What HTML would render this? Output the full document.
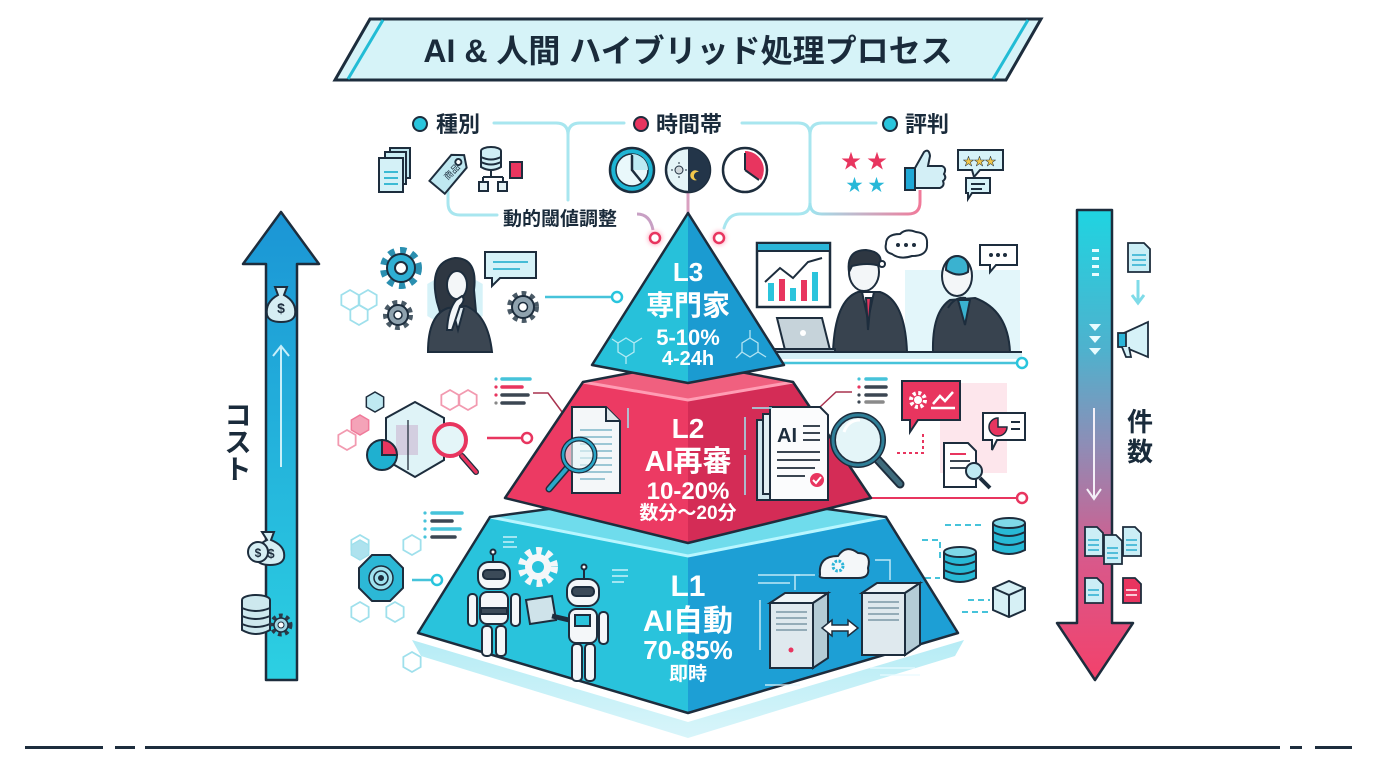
<!DOCTYPE html>
<html><head><meta charset="utf-8"><style>
html,body{margin:0;padding:0;background:#fff;}
svg{display:block;}
text{font-family:"Liberation Sans","Noto Sans CJK JP",sans-serif;}
</style></head><body>
<svg width="1376" height="768" viewBox="0 0 1376 768" xmlns="http://www.w3.org/2000/svg">
<defs>
<linearGradient id="costG" x1="0" y1="0" x2="0" y2="1"><stop offset="0" stop-color="#1b95d5"/><stop offset="1" stop-color="#2cd0e2"/></linearGradient>
<linearGradient id="cntG" x1="0" y1="0" x2="0" y2="1"><stop offset="0" stop-color="#1fd4e1"/><stop offset="0.3" stop-color="#4fb1cd"/><stop offset="0.5" stop-color="#8e8db6"/><stop offset="0.75" stop-color="#d9588a"/><stop offset="1" stop-color="#f3416b"/></linearGradient>
<linearGradient id="rcG" x1="0" y1="0" x2="1" y2="0"><stop offset="0" stop-color="#9fe3ee"/><stop offset="1" stop-color="#f07a9a"/></linearGradient>
<linearGradient id="plateG" x1="0" y1="0" x2="0" y2="1"><stop offset="0" stop-color="#b6ecf5"/><stop offset="1" stop-color="#d8f5fa"/></linearGradient>
<filter id="glow" x="-1" y="-1" width="3" height="3"><feGaussianBlur stdDeviation="2.5"/></filter>
<polygon id="hx" points="0,-10 8.66,-5 8.66,5 0,10 -8.66,5 -8.66,-5"/>
</defs>

<!-- Title -->
<polygon points="370,19 1041,19 1006,80 335,80" fill="#d6f3f8" stroke="#1d2d3d" stroke-width="3"/>
<line x1="348" y1="79" x2="383" y2="20" stroke="#22bcd5" stroke-width="3"/>
<line x1="993" y1="79" x2="1028" y2="20" stroke="#22bcd5" stroke-width="3"/>
<text x="688" y="62" text-anchor="middle" font-size="32" font-weight="700" fill="#1a2b3b">AI &amp; 人間 ハイブリッド処理プロセス</text>

<!-- category connectors -->
<g fill="none" stroke="#a8e6ef" stroke-width="3" stroke-linecap="round">
<path d="M494,123 H556 Q568,123 568,135 V200"/>
<path d="M568,135 Q568,123 580,123 H624"/>
<path d="M742,123 H798 Q810,123 810,135 V203 Q810,214 798,214 H740 Q728,214 724,228"/>
<path d="M810,135 Q810,123 822,123 H876"/>
<path d="M448,190 V203 Q448,215 460,215 H497"/>
</g>
<path d="M810,203 Q810,214 822,214 H908 Q920,214 920,202 V190" fill="none" stroke="url(#rcG)" stroke-width="3"/>
<path d="M637,214 Q650,214 653,230" fill="none" stroke="#c8a0c4" stroke-width="3"/>
<line x1="688" y1="192" x2="688" y2="214" stroke="#d9a0c0" stroke-width="3"/>
<circle cx="655" cy="238" r="7" fill="#ff7a9c" filter="url(#glow)" opacity="0.6"/>
<circle cx="719" cy="238" r="7" fill="#ff7a9c" filter="url(#glow)" opacity="0.6"/>
<circle cx="655" cy="238" r="5" fill="#fff" stroke="#e8355f" stroke-width="2.5"/>
<circle cx="719" cy="238" r="5" fill="#fff" stroke="#e8355f" stroke-width="2.5"/>

<!-- categories -->
<circle cx="420" cy="124" r="7" fill="#29c5dd" stroke="#1d2d3d" stroke-width="2"/>
<text x="436" y="132" font-size="22" font-weight="700" fill="#1a2b3b">種別</text>
<circle cx="641" cy="124" r="7" fill="#e8355f" stroke="#1d2d3d" stroke-width="2"/>
<text x="656" y="132" font-size="22" font-weight="700" fill="#1a2b3b">時間帯</text>
<circle cx="890" cy="124" r="7" fill="#29c5dd" stroke="#1d2d3d" stroke-width="2"/>
<text x="905" y="132" font-size="22" font-weight="700" fill="#1a2b3b">評判</text>
<text x="503" y="225" font-size="19" font-weight="700" fill="#1a2b3b">動的閾値調整</text>

<!-- 種別 icons -->
<g stroke="#1d2d3d" stroke-width="2">
<rect x="390" y="148" width="20" height="30" fill="#bfe6ef"/>
<rect x="385" y="152" width="21" height="32" fill="#c9edf4"/>
<rect x="379" y="158" width="24" height="34" fill="#d4f1f7"/>
<g stroke="#3bbad4" stroke-width="2"><line x1="384" y1="172" x2="398" y2="172"/><line x1="384" y1="178" x2="398" y2="178"/><line x1="384" y1="184" x2="398" y2="184"/></g>
<g transform="rotate(40 450 172)"><path d="M440,158 L450,150 L460,158 V192 H440 Z" fill="#bfe8f1"/><circle cx="450" cy="159" r="3" fill="#fff"/></g>
<text x="445" y="180" font-size="9" fill="#1d2d3d" stroke="none" transform="rotate(-45 447 177)">商品</text>
<ellipse cx="491" cy="151" rx="10" ry="4" fill="#cfeef5"/>
<path d="M481,151 V167 Q491,173 501,167 V151" fill="#cfeef5"/>
<path d="M481,157 Q491,162 501,157 M481,162 Q491,167 501,162" fill="none"/>
<path d="M491,171 V177 M483,177 H503 M483,177 V182 M503,177 V182" fill="none"/>
<rect x="479" y="182" width="9" height="9" fill="#e6f4f7"/>
<rect x="498" y="182" width="9" height="9" fill="#e6f4f7"/>
<rect x="510" y="162" width="12" height="16" fill="#e8355f"/>
</g>

<!-- clocks -->
<circle cx="632" cy="170" r="22" fill="#1eb5d4" stroke="#1d2d3d" stroke-width="2.5"/>
<circle cx="632" cy="170" r="16" fill="#e9f8fb" stroke="#1d2d3d" stroke-width="1.5"/>
<path d="M632,154 A16,16 0 0 1 648,170 L632,170 Z" fill="#bdeaf3"/>
<path d="M632,170 V156 M632,170 L641,181" stroke="#1d2d3d" stroke-width="2.5" stroke-linecap="round"/>
<circle cx="688" cy="170" r="22" fill="#e5f5f8" stroke="#1d2d3d" stroke-width="2.5"/>
<path d="M688,148 A22,22 0 0 1 688,192 Z" fill="#233549"/>
<circle cx="679" cy="170" r="4" fill="#cfd8dc" stroke="#1d2d3d" stroke-width="1"/>
<path d="M679,162 V164 M679,176 V178 M671,170 H673 M685,170 H687" stroke="#1d2d3d" stroke-width="1"/>
<path d="M699,172 A5,5 0 1 0 697,180 A4,4 0 0 1 699,172 Z" fill="#f3c84b"/>
<circle cx="745" cy="170" r="22" fill="#fff" stroke="#1d2d3d" stroke-width="2.5"/>
<path d="M745,170 V151 A19,19 0 0 1 761,180 Z" fill="#e8355f"/>
<path d="M745,170 V153 M745,170 L759,180" stroke="#1d2d3d" stroke-width="2"/>

<!-- 評判 icons -->
<text x="841" y="168" font-size="20" fill="#e8355f" font-family="DejaVu Sans">★</text>
<text x="867" y="168" font-size="20" fill="#e8355f" font-family="DejaVu Sans">★</text>
<text x="846" y="191" font-size="17" fill="#29b8d8" font-family="DejaVu Sans">★</text>
<text x="868" y="191" font-size="17" fill="#29b8d8" font-family="DejaVu Sans">★</text>
<g stroke="#1d2d3d" stroke-width="2">
<rect x="905" y="168" width="10" height="22" fill="#1fa8d6"/>
<path d="M915,168 L924,152 Q929,148 930,156 L928,166 H942 Q947,168 944,174 Q947,178 943,181 Q945,186 940,188 H915 Z" fill="#d3eff6"/>
<path d="M958,150 H1003 V170 H980 L974,177 L972,170 H958 Z" fill="#d6f2f8"/>
<path d="M966,178 H990 V193 H972 L968,199 V193 H966 Z" fill="#d6f2f8"/>
<line x1="971" y1="184" x2="985" y2="184"/><line x1="971" y1="189" x2="982" y2="189"/>
</g>
<text x="963" y="165" font-size="11" fill="#f3c84b" font-family="DejaVu Sans" stroke="#1d2d3d" stroke-width="0.5">★★★</text>

<!-- Left cost arrow -->
<path d="M266,680 V264 H243 L281,212 L319,264 H297 V680 Z" fill="url(#costG)" stroke="#1d2d3d" stroke-width="2.5" stroke-linejoin="round"/>
<path d="M281,467 V347 M273,356 L281,346 L289,356" fill="none" stroke="#e6fbff" stroke-width="2" opacity="0.85"/>
<g stroke="#1d2d3d" stroke-width="2">
<path d="M275,287 L287,287 L284,295 Q297,302 295,315 Q293,322 281,322 Q269,322 267,315 Q265,302 278,295 Z" fill="#d6eef3"/>
<path d="M262,532 L274,532 L271,540 Q286,546 284,558 Q282,565 270,565 Q258,565 256,558 Q254,546 267,540 Z" fill="#d6eef3"/>
<circle cx="258" cy="552" r="10" fill="#d6eef3"/>
<ellipse cx="256" cy="600" rx="14" ry="5" fill="#cde8ee"/>
<path d="M242,600 V630 Q256,638 270,630 V600" fill="#cde8ee"/>
<path d="M242,608 Q256,614 270,608 M242,616 Q256,622 270,616 M242,624 Q256,630 270,624" fill="none"/>
</g>
<text x="281" y="313" font-size="14" text-anchor="middle" fill="#1d2d3d" font-weight="700">$</text>
<text x="271" y="558" font-size="13" text-anchor="middle" fill="#1d2d3d" font-weight="700">$</text>
<text x="258" y="557" font-size="12" text-anchor="middle" fill="#1d2d3d" font-weight="700">$</text>
<circle cx="281" cy="625" r="9" fill="none" stroke="#2b3a48" stroke-width="5" stroke-dasharray="3.5 3.2"/>
<circle cx="281" cy="625" r="7" fill="#9fd6e4" stroke="#1d2d3d" stroke-width="1.5"/>
<circle cx="281" cy="625" r="3" fill="#fff" stroke="#1d2d3d" stroke-width="1"/>
<text x="238" y="425" font-size="27" font-weight="700" text-anchor="middle" fill="#1a2b3b">コ</text>
<text x="238" y="452" font-size="27" font-weight="700" text-anchor="middle" fill="#1a2b3b">ス</text>
<text x="238" y="479" font-size="27" font-weight="700" text-anchor="middle" fill="#1a2b3b">ト</text>

<!-- Right count arrow -->
<path d="M1077,210 H1112 V623 H1133 L1095,680 L1057,623 H1077 Z" fill="url(#cntG)" stroke="#1d2d3d" stroke-width="2.5" stroke-linejoin="round"/>
<g fill="#e8fcff"><rect x="1092" y="249" width="7" height="3"/><rect x="1092" y="257" width="7" height="3"/><rect x="1092" y="265" width="7" height="3"/><rect x="1092" y="273" width="7" height="3"/>
<polygon points="1089,324 1101,324 1095,331"/><polygon points="1089,336 1101,336 1095,343"/><polygon points="1089,348 1101,348 1095,355"/></g>
<path d="M1094,408 V498 M1087,489 L1094,499 L1101,489" fill="none" stroke="#f4f0f8" stroke-width="2"/>
<g stroke="#1d2d3d" stroke-width="1.8">
<path d="M1128,243 H1144 L1150,249 V272 H1128 Z" fill="#cbeef6"/>
<path d="M1124,333 L1148,322 V357 L1124,347 Z" fill="#d6f2f8"/>
<rect x="1118" y="333" width="8" height="14" fill="#2bb5d8"/>
<path d="M1122,347 L1126,357 H1131 L1129,347" fill="#d6f2f8"/>
<path d="M1085,527 H1097 L1103,533 V556 H1085 Z" fill="#cbeef6"/>
<path d="M1123,527 H1135 L1141,533 V556 H1123 Z" fill="#cbeef6"/>
<path d="M1104,535 H1116 L1122,541 V564 H1104 Z" fill="#cbeef6"/>
<path d="M1085,578 H1097 L1103,584 V603 H1085 Z" fill="#cbeef6"/>
<path d="M1123,578 H1135 L1141,584 V603 H1123 Z" fill="#e8355f"/>
</g>
<g stroke="#2aaed0" stroke-width="1.5">
<line x1="1132" y1="255" x2="1146" y2="255"/><line x1="1132" y1="260" x2="1146" y2="260"/><line x1="1132" y1="265" x2="1146" y2="265"/>
<line x1="1088" y1="540" x2="1099" y2="540"/><line x1="1088" y1="545" x2="1099" y2="545"/><line x1="1088" y1="550" x2="1099" y2="550"/>
<line x1="1126" y1="540" x2="1137" y2="540"/><line x1="1126" y1="545" x2="1137" y2="545"/><line x1="1126" y1="550" x2="1137" y2="550"/>
<line x1="1107" y1="548" x2="1118" y2="548"/><line x1="1107" y1="553" x2="1118" y2="553"/><line x1="1107" y1="558" x2="1118" y2="558"/>
<line x1="1088" y1="590" x2="1099" y2="590"/><line x1="1088" y1="595" x2="1099" y2="595"/>
</g>
<g stroke="#fff" stroke-width="1.5"><line x1="1126" y1="590" x2="1137" y2="590"/><line x1="1126" y1="595" x2="1137" y2="595"/></g>
<path d="M1138,280 V302 M1132,295 L1138,303 L1144,295" fill="none" stroke="#7fdbe8" stroke-width="3"/>
<text x="1140" y="431" font-size="26" font-weight="700" text-anchor="middle" fill="#1a2b3b">件</text>
<text x="1140" y="461" font-size="26" font-weight="700" text-anchor="middle" fill="#1a2b3b">数</text>

<!-- Left illustrations -->
<g fill="none" stroke="#9fe0ec" stroke-width="1.8">
<use href="#hx" x="350" y="300"/>
<use href="#hx" x="368" y="300"/>
<use href="#hx" x="359" y="315"/>
<use href="#hx" x="412" y="662"/>
<use href="#hx" x="360" y="545"/>
<use href="#hx" x="360" y="612"/>
<use href="#hx" x="395" y="612"/>
<use href="#hx" x="412" y="545"/>
</g>
<g fill="none" stroke="#f29ab0" stroke-width="1.8">
<use href="#hx" x="450" y="400"/>
<use href="#hx" x="468" y="400"/>
<use href="#hx" x="347" y="440"/>
</g>
<use href="#hx" x="375" y="402" fill="#bfe9f2" stroke="#1d2d3d" stroke-width="1.5"/>
<use href="#hx" x="360" y="425" fill="#f4a3b8" stroke="#f07a9a" stroke-width="1.5"/>
<use href="#hx" x="360" y="550" fill="#aee2ee" stroke="#9fe0ec" stroke-width="1.5"/>
<!-- gears -->
<g>
<circle cx="401" cy="268" r="17" fill="none" stroke="#2a8fb0" stroke-width="8" stroke-dasharray="6 5.3"/>
<circle cx="401" cy="268" r="14" fill="#2eafd3" stroke="#1d2d3d" stroke-width="2"/>
<circle cx="401" cy="268" r="6" fill="#fff" stroke="#1d2d3d" stroke-width="2"/>
<circle cx="398" cy="315" r="12" fill="none" stroke="#4a5a66" stroke-width="6" stroke-dasharray="4.5 4"/>
<circle cx="398" cy="315" r="10" fill="#8fa2ae" stroke="#1d2d3d" stroke-width="2"/>
<circle cx="398" cy="315" r="4" fill="#fff" stroke="#1d2d3d" stroke-width="1.5"/>
<circle cx="523" cy="307" r="13" fill="none" stroke="#4a5a66" stroke-width="6" stroke-dasharray="4.5 4"/>
<circle cx="523" cy="307" r="11" fill="#8fa2ae" stroke="#1d2d3d" stroke-width="2"/>
<circle cx="523" cy="307" r="4.5" fill="#fff" stroke="#1d2d3d" stroke-width="1.5"/>
</g>
<!-- woman -->
<use href="#hx" x="0" y="0" transform="translate(455,300) scale(3.2)" fill="#d6f2f8"/>
<g stroke="#1d2d3d" stroke-width="2">
<path d="M437,302 Q428,262 455,258 Q478,258 474,290 L476,312 L440,312 Z" fill="#2e3742"/>
<ellipse cx="457" cy="285" rx="10" ry="14" fill="#f3f6f8"/>
<path d="M428,352 Q428,315 448,308 L466,306 Q488,315 492,352 Z" fill="#3b4652"/>
<path d="M452,308 L458,330 L464,308" fill="#dfeaf0"/>
<path d="M447,330 Q448,310 456,300 L462,296 Q466,300 460,306 L452,330 Z" fill="#f3f6f8"/>
<path d="M485,252 H536 V278 H500 L492,286 L492,278 H485 Z" fill="#d6f2f8"/>
</g>
<line x1="493" y1="262" x2="528" y2="262" stroke="#46bcd6" stroke-width="2"/>
<line x1="493" y1="269" x2="520" y2="269" stroke="#46bcd6" stroke-width="2"/>
<line x1="545" y1="297" x2="612" y2="297" stroke="#46c3da" stroke-width="2.5"/>
<circle cx="617" cy="297" r="5" fill="#fff" stroke="#29c5dd" stroke-width="2.5"/>
<!-- lines icon mid -->
<g stroke-width="3.5" stroke-linecap="round">
<line x1="502" y1="379" x2="530" y2="379" stroke="#46c3da"/>
<line x1="502" y1="387" x2="522" y2="387" stroke="#e8355f"/>
<line x1="502" y1="395" x2="528" y2="395" stroke="#3b4652"/>
<line x1="502" y1="403" x2="524" y2="403" stroke="#3b4652"/>
<line x1="432" y1="513" x2="462" y2="513" stroke="#46c3da"/>
<line x1="432" y1="521" x2="452" y2="521" stroke="#3b4652"/>
<line x1="432" y1="529" x2="460" y2="529" stroke="#46c3da"/>
<line x1="432" y1="537" x2="455" y2="537" stroke="#3b4652"/>
</g>
<g fill="#888"><circle cx="496" cy="379" r="1.6" fill="#46c3da"/><circle cx="496" cy="387" r="1.6" fill="#e8355f"/><circle cx="496" cy="395" r="1.6" fill="#e8355f"/><circle cx="496" cy="403" r="1.6"/>
<circle cx="425" cy="513" r="1.6" fill="#46c3da"/><circle cx="425" cy="521" r="1.6" fill="#46c3da"/><circle cx="425" cy="529" r="1.6" fill="#46c3da"/><circle cx="425" cy="537" r="1.6" fill="#46c3da"/></g>
<path d="M533,393 H548 L568,420" fill="none" stroke="#a8324f" stroke-width="1.5"/>
<!-- big hex w/ magnifier -->
<polygon points="415,402 444,418 444,460 415,477 386,460 386,418" fill="#dff3f7" stroke="#1d2d3d" stroke-width="2"/>
<rect x="396" y="425" width="22" height="30" fill="#c8a9c9" opacity="0.5"/>
<path d="M408,420 V470" stroke="#3b4652" stroke-width="1.5"/>
<path d="M382,440 A15,15 0 1 0 397,455 L382,455 Z" fill="#1fb0d0" stroke="#1d2d3d" stroke-width="2"/>
<path d="M382,440 A15,15 0 0 1 397,455 L382,455 Z" fill="#e8355f" stroke="#1d2d3d" stroke-width="2"/>
<line x1="462" y1="456" x2="476" y2="472" stroke="#1d2d3d" stroke-width="6" stroke-linecap="round"/>
<line x1="462" y1="456" x2="476" y2="472" stroke="#e8355f" stroke-width="3.5" stroke-linecap="round"/>
<circle cx="450" cy="440" r="16" fill="#e4f5f8" stroke="#e8355f" stroke-width="4"/>
<line x1="487" y1="438" x2="521" y2="438" stroke="#e8355f" stroke-width="2.5"/>
<circle cx="527" cy="438" r="5" fill="#fff" stroke="#e8355f" stroke-width="2.5"/>
<!-- octagon camera -->
<polygon points="372,555 390,555 403,568 403,588 390,601 372,601 359,588 359,568" fill="#2cb8d6" stroke="#1d2d3d" stroke-width="2"/>
<circle cx="381" cy="578" r="12" fill="#9fe2ee" stroke="#1d2d3d" stroke-width="1.5"/>
<circle cx="381" cy="578" r="7" fill="none" stroke="#1d2d3d" stroke-width="1.5"/>
<circle cx="381" cy="578" r="3" fill="#1d2d3d"/>
<line x1="412" y1="580" x2="432" y2="580" stroke="#46c3da" stroke-width="2.5"/>
<circle cx="437" cy="580" r="5" fill="#fff" stroke="#29c5dd" stroke-width="2.5"/>

<!-- Right illustrations -->
<rect x="905" y="270" width="115" height="82" fill="#e3f6fa"/>
<rect x="940" y="383" width="67" height="90" fill="#fde6ec"/>
<g stroke="#1d2d3d" stroke-width="2">
<rect x="757" y="243" width="73" height="64" fill="#fff" stroke-width="2.5"/>
<rect x="757" y="243" width="73" height="8" fill="#2bb5d8"/>
</g>
<g fill="#2bc4dc"><rect x="768" y="283" width="6" height="18"/><rect x="790" y="288" width="6" height="13"/><rect x="812" y="272" width="6" height="29"/><rect x="801" y="280" width="6" height="21" fill="#e8355f"/><rect x="779" y="279" width="6" height="22" fill="#e8355f"/></g>
<path d="M765,282 L780,268 L793,278 L808,262 L822,258" fill="none" stroke="#1d2d3d" stroke-width="2"/>
<g stroke="#1d2d3d" stroke-width="2">
<path d="M833,352 Q835,300 858,292 L880,292 Q905,300 907,352 Z" fill="#38434f"/>
<path d="M862,292 L868,320 L874,292 Z" fill="#fff"/>
<path d="M866,298 L868,330 L871,298 Z" fill="#e8355f"/>
<ellipse cx="864" cy="272" rx="15" ry="19" fill="#f3f6f8"/>
<path d="M849,272 Q846,250 866,250 Q884,252 880,266 Q868,262 852,266 Z" fill="#2e3742"/>
<path d="M777,318 H822 L830,350 H785 Z" fill="#c6d3da"/>
<rect x="775" y="349" width="60" height="4" fill="#9fb2bc"/>
<circle cx="803" cy="333" r="3" fill="#fff" stroke="none"/>
<path d="M933,352 Q932,312 950,300 L975,298 Q1008,310 1010,352 Z" fill="#38434f"/>
<path d="M958,300 L965,325 L970,300 Z" fill="#3ab2d0"/>
<ellipse cx="957" cy="276" rx="15" ry="20" fill="#f3f6f8"/>
<path d="M946,270 Q946,256 958,256 Q970,258 968,272 Q958,278 946,270 Z" fill="#3ab2d0"/>
<path d="M948,308 Q955,296 966,298" fill="none"/>
<path d="M886,244 Q886,234 900,234 Q906,228 916,232 Q928,233 927,244 Q928,256 912,256 Q900,260 892,254 Q884,252 886,244 Z" fill="#fff"/>
<circle cx="882" cy="264" r="3" fill="#fff"/>
<path d="M980,245 H1017 V265 H996 L990,272 V265 H980 Z" fill="#fff"/>
</g>
<g fill="#1d2d3d"><circle cx="898" cy="245" r="2"/><circle cx="906" cy="245" r="2"/><circle cx="914" cy="245" r="2"/><circle cx="991" cy="255" r="2"/><circle cx="998" cy="255" r="2"/><circle cx="1005" cy="255" r="2"/></g>
<line x1="770" y1="352" x2="1022" y2="352" stroke="#1d2d3d" stroke-width="2"/>
<rect x="777" y="353" width="245" height="6" fill="#d5f1f7"/>
<line x1="783" y1="363" x2="1016" y2="363" stroke="#46c3da" stroke-width="2.5"/>
<circle cx="1022" cy="363" r="5" fill="#fff" stroke="#29c5dd" stroke-width="2.5"/>
<!-- pink area right -->
<g stroke-width="3.5" stroke-linecap="round">
<line x1="866" y1="379" x2="886" y2="379" stroke="#46c3da"/>
<line x1="866" y1="387" x2="886" y2="387" stroke="#3b4652"/>
<line x1="866" y1="395" x2="886" y2="395" stroke="#3b4652"/>
<line x1="866" y1="402" x2="883" y2="402" stroke="#8a8a8a"/>
</g>
<g><circle cx="859" cy="379" r="1.6" fill="#46c3da"/><circle cx="859" cy="387" r="1.6" fill="#e8355f"/><circle cx="859" cy="395" r="1.6" fill="#3b4652"/><circle cx="859" cy="402" r="1.6" fill="#3b4652"/></g>
<path d="M820,407 L836,392 H852" fill="none" stroke="#a8324f" stroke-width="1.5"/>
<path d="M902,381 H960 V420 H918 L910,432 L910,420 H902 Z" fill="#e8355f" stroke="#1d2d3d" stroke-width="2"/>
<circle cx="918" cy="400" r="7" fill="none" stroke="#fff" stroke-width="4" stroke-dasharray="3 2.5"/>
<circle cx="918" cy="400" r="4" fill="#fff"/>
<path d="M931,408 H955 M933,404 L940,396 L945,401 L953,392" fill="none" stroke="#fff" stroke-width="2.5"/>
<path d="M897,453 H923 V433" fill="none" stroke="#e8355f" stroke-width="2" stroke-dasharray="3 3"/>
<g stroke="#1d2d3d" stroke-width="2">
<path d="M944,443 H968 L976,451 V487 H944 Z" fill="#fff"/>
<path d="M983,413 H1025 V440 H997 L992,450 V440 H983 Z" fill="#fff"/>
</g>
<line x1="950" y1="454" x2="966" y2="454" stroke="#e8355f" stroke-width="2"/>
<line x1="950" y1="461" x2="970" y2="461" stroke="#3b4652" stroke-width="2"/>
<line x1="950" y1="468" x2="966" y2="468" stroke="#3b4652" stroke-width="2"/>
<path d="M998,418 A9,9 0 1 0 1007,427 L998,427 Z" fill="#e8355f" stroke="#1d2d3d" stroke-width="1.5"/>
<line x1="1011" y1="422" x2="1020" y2="422" stroke="#1d2d3d" stroke-width="2"/><line x1="1011" y1="429" x2="1020" y2="429" stroke="#1d2d3d" stroke-width="2"/>
<line x1="980" y1="478" x2="990" y2="488" stroke="#1d2d3d" stroke-width="4"/>
<circle cx="974" cy="471" r="8" fill="#bfe9f2" stroke="#1d2d3d" stroke-width="2"/>
<line x1="870" y1="498" x2="1016" y2="498" stroke="#e8355f" stroke-width="2"/>
<circle cx="1022" cy="498" r="5" fill="#fff" stroke="#e8355f" stroke-width="2.5"/>
<!-- db right -->
<g stroke="#1d2d3d" stroke-width="2">
<path d="M993,523 V550 Q1009,558 1025,550 V523" fill="#28b9d6"/>
<ellipse cx="1009" cy="523" rx="16" ry="5" fill="#7fd8e8"/>
<path d="M993,532 Q1009,540 1025,532 M993,541 Q1009,549 1025,541" fill="none"/>
<path d="M944,552 V578 Q960,586 976,578 V552" fill="#28b9d6"/>
<ellipse cx="960" cy="552" rx="16" ry="5" fill="#7fd8e8"/>
<path d="M944,561 Q960,569 976,561 M944,570 Q960,578 976,570" fill="none"/>
<path d="M993,588 L1009,581 L1025,588 V610 L1009,617 L993,610 Z" fill="#d6f0f5"/>
<path d="M993,588 L1009,595 L1025,588 M1009,595 V617" fill="none"/>
</g>
<g stroke="#46c3da" stroke-width="2" fill="none" stroke-dasharray="6 4">
<path d="M945,525 H985"/><path d="M922,540 H940 V560"/><path d="M925,578 H940"/><path d="M968,600 H990"/><path d="M962,612 H990"/>
</g>

<!-- Pyramid base plate -->
<polygon points="412,640 688,722 964,640 955,656 688,738 421,656" fill="url(#plateG)"/>
<!-- L1 -->
<polygon points="490,517 688,490 886,517 688,556" fill="#6fdcec"/>
<polygon points="490,517 688,556 688,713 418,633" fill="#29c3dc"/>
<polygon points="688,556 886,517 958,633 688,713" fill="#1d9fd5"/>
<polyline points="490,517 688,556 886,517" fill="none" stroke="#b8f6ff" stroke-width="3"/>
<polygon points="490,517 418,633 688,713 958,633 886,517 688,490" fill="none" stroke="#1d2d3d" stroke-width="2.5" stroke-linejoin="round"/>
<!-- L2 -->
<polygon points="583,382 688,362 793,382 688,400" fill="#f0607f"/>
<polygon points="583,382 688,400 688,543 505,498" fill="#ec3a63"/>
<polygon points="688,400 793,382 871,498 688,543" fill="#d42c56"/>
<polyline points="583,382 688,400 793,382" fill="none" stroke="#ff9db4" stroke-width="3"/>
<polygon points="583,382 505,498 688,543 871,498 793,382 688,362" fill="none" stroke="#1d2d3d" stroke-width="2.5" stroke-linejoin="round"/>
<!-- L3 -->
<polygon points="688,213 592,365 688,383" fill="#27c1da"/>
<polygon points="688,213 688,383 784,365" fill="#1b9bd1"/>
<polygon points="688,213 592,365 688,383 784,365" fill="none" stroke="#1d2d3d" stroke-width="2.5" stroke-linejoin="round"/>
<!-- molecules L3 -->
<g fill="none" stroke="#d8f6fb" stroke-width="1.3" opacity="0.8">
<polygon points="626,338 634,343 634,352 626,357 618,352 618,343"/><path d="M634,343 L642,338 M626,357 L626,364 M618,343 L612,339"/>
<polygon points="750,338 758,343 758,352 750,357 742,352 742,343"/><path d="M750,338 V330 M758,352 L766,357 M742,352 L736,358"/>
</g>

<!-- L2 interior -->
<g stroke="#1d2d3d" stroke-width="2">
<path d="M572,407 H606 L620,421 V493 H572 Z" fill="#f4f7f9"/>
<path d="M606,407 V421 H620" fill="#dfe6ea"/>
</g>
<g stroke="#7fb7c9" stroke-width="1.6"><line x1="580" y1="430" x2="612" y2="430"/><line x1="580" y1="437" x2="612" y2="437"/><line x1="580" y1="444" x2="612" y2="444"/><line x1="580" y1="451" x2="612" y2="451"/><line x1="580" y1="458" x2="612" y2="458"/><line x1="580" y1="465" x2="612" y2="465"/><line x1="580" y1="472" x2="612" y2="472"/><line x1="580" y1="479" x2="605" y2="479"/></g>
<line x1="567" y1="468" x2="549" y2="489" stroke="#1d2d3d" stroke-width="7" stroke-linecap="round"/>
<line x1="567" y1="468" x2="549" y2="489" stroke="#2aa7c9" stroke-width="4" stroke-linecap="round"/>
<circle cx="579" cy="455" r="16" fill="#e7f6f9" fill-opacity="0.6" stroke="#1d2d3d" stroke-width="5"/>
<circle cx="579" cy="455" r="16" fill="none" stroke="#2aa7c9" stroke-width="2.5"/>
<g stroke="#1d2d3d" stroke-width="2">
<rect x="757" y="420" width="55" height="80" fill="#cfe6ee"/>
<rect x="763" y="414" width="55" height="80" fill="#e2eff3"/>
<path d="M770,407 H820 L828,415 V500 H770 Z" fill="#fbfcfd"/>
</g>
<text x="777" y="442" font-size="20" font-weight="700" fill="#1d2d3d">AI</text>
<g stroke="#3b4652" stroke-width="2"><line x1="803" y1="426" x2="820" y2="426"/><line x1="803" y1="433" x2="820" y2="433"/><line x1="803" y1="440" x2="820" y2="440"/><line x1="777" y1="452" x2="820" y2="452"/><line x1="777" y1="460" x2="820" y2="460"/><line x1="777" y1="468" x2="815" y2="468"/><line x1="777" y1="476" x2="805" y2="476"/></g>
<circle cx="817" cy="480" r="7" fill="#e8355f"/>
<path d="M813,480 L816,483 L821,477" fill="none" stroke="#fff" stroke-width="2"/>
<line x1="878" y1="460" x2="900" y2="484" stroke="#1d2d3d" stroke-width="9" stroke-linecap="round"/>
<line x1="878" y1="460" x2="900" y2="484" stroke="#3f6b7c" stroke-width="5" stroke-linecap="round"/>
<circle cx="858" cy="440" r="25" fill="#e4f5f8" stroke="#1d2d3d" stroke-width="6"/>
<circle cx="858" cy="440" r="25" fill="none" stroke="#2f7f98" stroke-width="3"/>
<path d="M844,432 Q848,420 860,420" fill="none" stroke="#fff" stroke-width="3"/>
<g stroke="#9fe8f3" stroke-width="1.5"><line x1="628" y1="408" x2="628" y2="428"/><line x1="745" y1="417" x2="745" y2="450"/><line x1="745" y1="455" x2="745" y2="495"/><line x1="752" y1="408" x2="772" y2="408"/></g>

<!-- L1 interior: robots -->
<g stroke="#1d2d3d" stroke-width="2">
<line x1="493" y1="553" x2="493" y2="562"/><circle cx="493" cy="552" r="2.5" fill="#fff"/>
<rect x="478" y="562" width="32" height="27" rx="11" fill="#f4f7f9"/>
<rect x="483" y="570" width="22" height="9" rx="4" fill="#3b4a58"/>
<rect x="480" y="592" width="28" height="32" rx="7" fill="#f4f7f9"/>
<rect x="481" y="608" width="26" height="6" fill="#3b4a58"/>
<rect x="468" y="594" width="9" height="32" rx="4" fill="#f4f7f9"/>
<rect x="511" y="594" width="9" height="32" rx="4" fill="#f4f7f9"/>
<rect x="482" y="626" width="10" height="30" rx="4" fill="#f4f7f9"/>
<rect x="496" y="626" width="10" height="30" rx="4" fill="#f4f7f9"/>
<line x1="584" y1="568" x2="584" y2="579"/><circle cx="584" cy="567" r="2.5" fill="#fff"/>
<rect x="567" y="579" width="32" height="27" rx="11" fill="#f4f7f9"/>
<rect x="572" y="587" width="22" height="9" rx="4" fill="#3b4a58"/>
<rect x="569" y="609" width="28" height="34" rx="7" fill="#f4f7f9"/>
<rect x="575" y="615" width="15" height="11" fill="#2bc4dc"/>
<rect x="599" y="612" width="9" height="32" rx="4" fill="#f4f7f9"/>
<rect x="572" y="644" width="10" height="37" rx="4" fill="#f4f7f9"/>
<rect x="585" y="644" width="10" height="37" rx="4" fill="#f4f7f9"/>
<path d="M526,600 L552,596 L556,620 L530,624 Z" fill="#cfe3ea"/>
<path d="M552,616 L569,620" stroke-width="5"/>
</g>
<circle cx="538" cy="567" r="16" fill="none" stroke="#f4f7f9" stroke-width="8" stroke-dasharray="5.5 5"/>
<circle cx="538" cy="567" r="13" fill="#f4f7f9"/>
<circle cx="538" cy="567" r="6" fill="#29c3dc"/>
<g stroke="#e8fbff" stroke-width="1.5" opacity="0.85"><line x1="503" y1="537" x2="517" y2="537"/><line x1="503" y1="542" x2="514" y2="542"/><line x1="503" y1="547" x2="517" y2="547"/><line x1="612" y1="570" x2="628" y2="570"/><line x1="612" y1="576" x2="628" y2="576"/><line x1="612" y1="582" x2="624" y2="582"/></g>
<!-- servers -->
<g stroke="#1d2d3d" stroke-width="2">
<path d="M820,575 Q818,556 838,556 Q846,544 858,553 Q872,553 868,568 Q870,578 858,578 H826 Q818,578 820,575 Z" fill="#f4f7f9"/>
<path d="M862,593 L877,583 H920 L905,593 Z" fill="#eef5f7"/>
<path d="M905,593 L920,583 V645 L905,655 Z" fill="#b4ccd6"/>
<rect x="862" y="593" width="43" height="62" fill="#dfe9ee"/>
<path d="M770,603 L785,593 H828 L813,603 Z" fill="#eef5f7"/>
<path d="M813,603 L828,593 V658 L813,668 Z" fill="#b4ccd6"/>
<rect x="770" y="603" width="43" height="65" fill="#dfe9ee"/>
</g>
<g stroke="#7c98a6" stroke-width="1.5"><line x1="776" y1="612" x2="807" y2="612"/><line x1="776" y1="618" x2="807" y2="618"/><line x1="776" y1="624" x2="807" y2="624"/><line x1="776" y1="630" x2="807" y2="630"/><line x1="868" y1="602" x2="899" y2="602"/><line x1="868" y1="608" x2="899" y2="608"/><line x1="868" y1="614" x2="899" y2="614"/><line x1="868" y1="620" x2="899" y2="620"/></g>
<circle cx="791" cy="650" r="2.5" fill="#e8355f"/>
<circle cx="838" cy="566" r="5" fill="none" stroke="#2bb5d8" stroke-width="3" stroke-dasharray="2.5 1.5"/>
<path d="M822,628 L832,620 V625 H848 V620 L858,628 L848,636 V631 H832 V636 Z" fill="#fff" stroke="#1d2d3d" stroke-width="1.5"/>
<g fill="none" stroke="#e8fbff" stroke-width="1.5" opacity="0.8"><path d="M795,590 V575 H815"/><path d="M875,560 H890 V580"/><path d="M760,600 V650"/><line x1="758" y1="575" x2="800" y2="575"/><line x1="758" y1="583" x2="790" y2="583"/><line x1="765" y1="685" x2="800" y2="685"/><line x1="870" y1="668" x2="915" y2="668"/><line x1="880" y1="675" x2="920" y2="675"/></g>

<!-- pyramid labels -->
<g fill="#fff" font-weight="700" text-anchor="middle">
<text x="688" y="281" font-size="26">L3</text>
<text x="688" y="315" font-size="28">専門家</text>
<text x="688" y="345" font-size="22">5-10%</text>
<text x="688" y="365" font-size="20">4-24h</text>
<text x="688" y="438" font-size="28">L2</text>
<text x="688" y="471" font-size="29">AI再審</text>
<text x="688" y="499" font-size="24">10-20%</text>
<text x="688" y="519" font-size="19">数分～20分</text>
<text x="688" y="596" font-size="30">L1</text>
<text x="688" y="631" font-size="30">AI自動</text>
<text x="688" y="659" font-size="26">70-85%</text>
<text x="688" y="680" font-size="19">即時</text>
</g>

<!-- bottom line -->
<g fill="#1d2d3d">
<rect x="25" y="746" width="78" height="3"/>
<rect x="115" y="746" width="20" height="3"/>
<rect x="145" y="746" width="1135" height="3"/>
<rect x="1290" y="746" width="12" height="3"/>
<rect x="1315" y="746" width="37" height="3"/>
</g>
</svg>
</body></html>
